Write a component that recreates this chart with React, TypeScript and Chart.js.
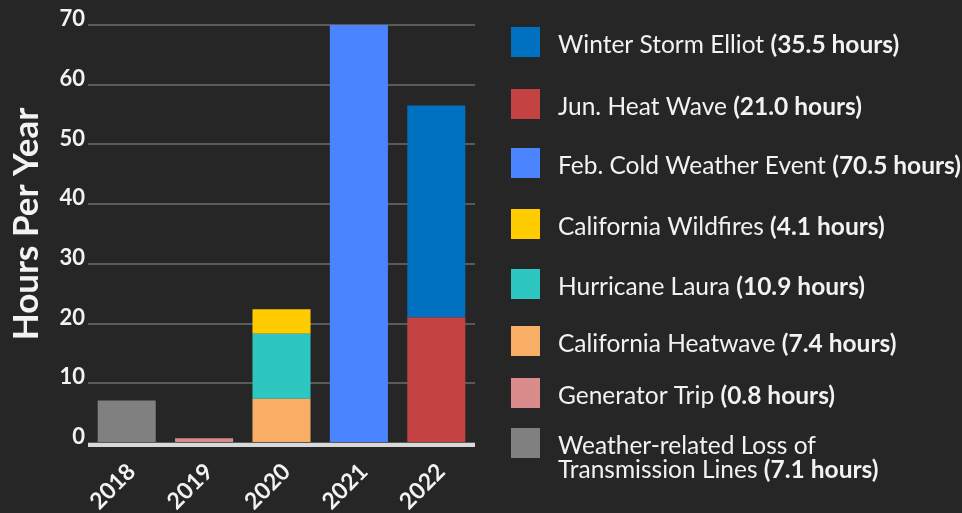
import React, { useEffect, useRef } from 'react';
import { Chart, registerables } from 'chart.js';

Chart.register(...registerables);

// Categories
const years = ['2018', '2019', '2020', '2021', '2022'];

// Hours of each event, placed in the year it happened (stacked bottom-to-top in this order)
const weatherLossHours = [7.1, null, null, null, null];
const generatorTripHours = [null, 0.8, null, null, null];
const caHeatwaveHours = [null, null, 7.4, null, null];
const lauraHours = [null, null, 10.9, null, null];
const wildfireHours = [null, null, 4.1, null, null];
const febColdHours = [null, null, null, 70.5, null];
const junHeatHours = [null, null, null, null, 21.0];
const elliotHours = [null, null, null, null, 35.5];

// Event names (a newline marks where the legend entry breaks)
const eventNames = [
  'Weather-related Loss of\nTransmission Lines',
  'Generator Trip',
  'California Heatwave',
  'Hurricane Laura',
  'California Wildfires',
  'Feb. Cold Weather Event',
  'Jun. Heat Wave',
  'Winter Storm Elliot',
];

const eventColors = [
  '#808080',
  '#DA8B8B',
  '#F9AE66',
  '#2EC6C1',
  '#FFCC00',
  '#4A84FF',
  '#C34343',
  '#0070C0',
];

const eventSeries = [
  weatherLossHours,
  generatorTripHours,
  caHeatwaveHours,
  lauraHours,
  wildfireHours,
  febColdHours,
  junHeatHours,
  elliotHours,
];

// Value axis
const yMin = 0;
const yMax = 70;
const yStep = 10;
const yTitle = 'Hours Per Year';

const TEXT = '#f2f2f2';
const FONT = 'Lato';

// Legend rows, top to bottom (centre y of each swatch)
const LEGEND_ROW_Y = [42, 104, 163, 224, 284, 341, 393, 443];

const decorPlugin = {
  id: 'hoursDecor',
  afterDatasetsDraw(chart: any) {
    // light baseline under the bars
    const { ctx, chartArea } = chart;
    ctx.save();
    ctx.fillStyle = '#d9d9d9';
    ctx.fillRect(chartArea.left, chartArea.bottom, chartArea.right - chartArea.left, 4);
    ctx.restore();
  },
  afterDraw(chart: any) {
    const ctx: CanvasRenderingContext2D = chart.ctx;
    ctx.save();

    // rotated value-axis title
    ctx.fillStyle = TEXT;
    ctx.font = `bold 35px ${FONT}`;
    ctx.textAlign = 'center';
    ctx.textBaseline = 'alphabetic';
    ctx.translate(37.5, 224);
    ctx.rotate(-Math.PI / 2);
    ctx.fillText(yTitle, 0, 0);
    ctx.setTransform(1, 0, 0, 1, 0, 0);

    // legend, newest event first
    const sets = chart.data.datasets.slice().reverse();
    const swatchX = 511;
    const textX = 558;
    const size = 24.5;
    const lineH = 24.5;
    ctx.textAlign = 'left';
    sets.forEach((ds: any, i: number) => {
      const cy = LEGEND_ROW_Y[i];
      ctx.fillStyle = ds.backgroundColor;
      ctx.fillRect(swatchX, cy - 15, 29, 30);

      const value = (ds.data as (number | null)[]).find((v) => v != null) as number;
      const tag = `(${value.toFixed(1)} hours)`;
      const lines = String(ds.label).split('\n');
      ctx.fillStyle = TEXT;
      lines.forEach((line, li) => {
        const baseY = cy + 10.5 + li * lineH;
        ctx.font = `${size}px ${FONT}`;
        ctx.fillText(line, textX, baseY);
        if (li === lines.length - 1) {
          const w = ctx.measureText(line + ' ').width;
          ctx.font = `bold ${size}px ${FONT}`;
          ctx.fillText(tag, textX + w, baseY);
        }
      });
    });
    ctx.restore();
  },
};

export default function App() {
  const canvasRef = useRef<HTMLCanvasElement | null>(null);

  useEffect(() => {
    document.body.style.margin = '0';
    document.body.style.background = '#262626';
    const canvas = canvasRef.current;
    if (!canvas) return;

    const chart = new Chart(canvas, {
      type: 'bar',
      data: {
        labels: years,
        datasets: eventSeries.map((series, i) => ({
          label: eventNames[i],
          data: series,
          backgroundColor: eventColors[i],
          borderWidth: 0,
          clip: 0,
        })),
      },
      options: {
        animation: false,
        responsive: false,
        devicePixelRatio: 1,
        layout: { padding: { top: 25, right: 487, left: 0, bottom: 0 } },
        datasets: { bar: { categoryPercentage: 1, barPercentage: 0.75 } },
        plugins: {
          legend: { display: false },
          tooltip: { enabled: false },
        },
        scales: {
          x: {
            stacked: true,
            grid: { display: false },
            border: { display: false },
            ticks: {
              color: TEXT,
              font: { family: FONT, size: 23, weight: 'bold' },
              maxRotation: 45,
              minRotation: 45,
              padding: 7,
              labelOffset: 5,
            },
            afterFit: (scale: any) => {
              scale.height = 70;
            },
          },
          y: {
            stacked: true,
            min: yMin,
            max: yMax,
            grid: { color: '#5a5a5a', lineWidth: 2, drawTicks: false },
            border: { display: false },
            ticks: {
              stepSize: yStep,
              color: TEXT,
              font: { family: FONT, size: 22, weight: 'bold' },
              padding: 3,
              labelOffset: -6,
            },
            afterFit: (scale: any) => {
              scale.width = 88;
            },
          },
        },
      },
      plugins: [decorPlugin],
    });

    return () => chart.destroy();
  }, []);

  return (
    <div style={{ width: 962, height: 513, background: '#262626' }}>
      <canvas ref={canvasRef} width={962} height={513} style={{ display: 'block' }} />
    </div>
  );
}
